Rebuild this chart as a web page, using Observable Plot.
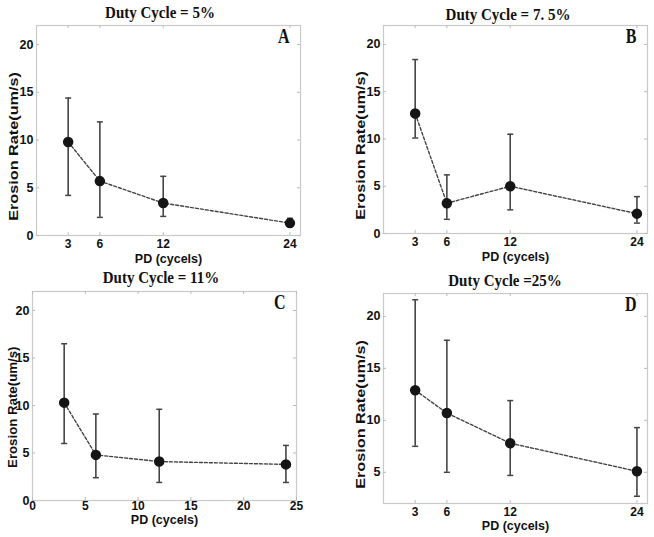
<!DOCTYPE html>
<html>
<head>
<meta charset="utf-8">
<script src="https://cdn.jsdelivr.net/npm/d3@7"></script>
<script src="https://cdn.jsdelivr.net/npm/@observablehq/plot@0.6"></script>
<style>
  html, body { margin: 0; padding: 0; background: #fff; }
  #root { position: relative; width: 654px; height: 537px; overflow: hidden; }
  .panel { position: absolute; }
  .title { position: absolute; font-family: "Liberation Serif", "Times New Roman", serif; font-weight: bold; font-size: 15px; color: #111; white-space: nowrap; transform: translate(-50%, -50%) scaleY(1.15); }
</style>
</head>
<body>
<div id="root"></div>
<script>
// ---- data ----
const pd = [3, 6, 12, 24];
const xTicksCat = [3, 6, 12, 24];
const xTicksLin = [0, 5, 10, 15, 20, 25];
const yTicksFull = [0, 5, 10, 15, 20];
const yTicksD = [5, 10, 15, 20];

const titles = ["Duty Cycle = 5%", "Duty Cycle = 7. 5%", "Duty Cycle = 11%", "Duty Cycle =25%"];
const letters = ["A", "B", "C", "D"];

const meanA = [9.8, 5.7, 3.4, 1.3];
const lowA  = [4.2, 1.9, 2.0, 1.0];
const highA = [14.4, 11.9, 6.2, 1.8];

const meanB = [12.7, 3.2, 5.0, 2.1];
const lowB  = [10.1, 1.5, 2.5, 1.1];
const highB = [18.4, 6.2, 10.5, 3.9];

const meanC = [10.3, 4.8, 4.1, 3.8];
const lowC  = [6.0, 2.4, 1.9, 1.9];
const highC = [16.5, 9.1, 9.6, 5.8];

const meanD = [12.9, 10.7, 7.8, 5.1];
const lowD  = [7.5, 5.0, 4.7, 2.7];
const highD = [21.6, 17.7, 11.9, 9.3];

const xLabel = "PD (cycels)";
const yLabel = "Erosion Rate(um/s)";

// ---- layout ----
const panels = [
  {mean: meanA, low: lowA, high: highA, xt: xTicksCat, yt: yTicksFull, yd: [0, 22],
   left: 0, top: 0, w: 327, h: 268, m: {l: 36, r: 27, t: 25, b: 33}, title: [160, 13],
   ylabDx: -23, ylabDy: 23, ylabStretch: 1.3, xPad: 4, xlabDy: 23},
  {mean: meanB, low: lowB, high: highB, xt: xTicksCat, yt: yTicksFull, yd: [0, 22],
   left: 327, top: 0, w: 327, h: 268, m: {l: 56, r: 7, t: 25, b: 35}, title: [508, 15],
   ylabDx: -23, ylabDy: 23, ylabStretch: 1.3, xPad: 4, xlabDy: 23.5},
  {mean: meanC, low: lowC, high: highC, xt: xTicksLin, yt: yTicksFull, yd: [0, 22],
   left: 0, top: 268, w: 327, h: 269, m: {l: 32, r: 31, t: 23, b: 37}, title: [161, 278],
   ylabDx: -20, ylabDy: 12, ylabStretch: 1.06, xPad: 1, xlabDy: 19},
  {mean: meanD, low: lowD, high: highD, xt: xTicksCat, yt: yTicksD, yd: [2, 22.2],
   left: 327, top: 268, w: 327, h: 269, m: {l: 56, r: 7, t: 25, b: 34}, title: [505, 281],
   ylabDx: -23, ylabDy: 23, ylabStretch: 1.3, xPad: 4, xlabDy: 22.5}
];

const capSymbol = {
  draw(context, size) {
    const w = 3;
    context.moveTo(-w, 0);
    context.lineTo(w, 0);
  }
};

const root = document.getElementById("root");
const tickFont = {fontFamily: "Liberation Sans, Arial, sans-serif", fontWeight: "bold", fontSize: 12, fill: "#111"};

// stretch a text element vertically (screen y) about its own centre
function stretchY(svg, el, k) {
  const sr = svg.getBoundingClientRect();
  const r = el.getBoundingClientRect();
  const cx = r.left + r.width / 2 - sr.left;
  const cy = r.top + r.height / 2 - sr.top;
  const g = document.createElementNS("http://www.w3.org/2000/svg", "g");
  g.setAttribute("transform", `translate(${cx},${cy}) scale(1,${k}) translate(${-cx},${-cy})`);
  el.parentNode.insertBefore(g, el);
  g.appendChild(el);
}

panels.forEach((p, i) => {
  const data = pd.map((x, k) => ({x, y: p.mean[k], lo: p.low[k], hi: p.high[k]}));
  const fw = p.w - p.m.l - p.m.r;
  const fh = p.h - p.m.t - p.m.b;
  const tickLen = 3;
  const chart = Plot.plot({
    width: p.w,
    height: p.h,
    marginLeft: p.m.l,
    marginRight: p.m.r,
    marginTop: p.m.t,
    marginBottom: p.m.b,
    style: {background: "transparent", overflow: "visible"},
    x: {domain: [0, 25], axis: null},
    y: {domain: p.yd, axis: null},
    marks: [
      Plot.frame({stroke: "#c9c9c9", strokeWidth: 1.2}),
      // inner tick marks on all four sides
      Plot.tickX(p.xt, {x: d => d, insetTop: fh - tickLen, stroke: "#bbb"}),
      Plot.tickX(p.xt, {x: d => d, insetBottom: fh - tickLen, stroke: "#bbb"}),
      Plot.tickY(p.yt, {y: d => d, insetRight: fw - tickLen, stroke: "#bbb"}),
      Plot.tickY(p.yt, {y: d => d, insetLeft: fw - tickLen, stroke: "#bbb"}),
      // tick labels
      Plot.axisX(p.xt, {tickSize: 0, tickPadding: p.xPad, label: null, ...tickFont}),
      Plot.axisY(p.yt, {tickSize: 0, tickPadding: 3, label: null, ...tickFont, fontSize: 12.5}),
      // axis labels
      Plot.text([xLabel], {frameAnchor: "bottom", dy: p.xlabDy, text: d => d, lineAnchor: "middle", ...tickFont, fontSize: 12.5}),
      Plot.text([yLabel], {frameAnchor: "left", dx: p.ylabDx, dy: p.ylabDy, rotate: -90, text: d => d,
        textAnchor: "middle", lineAnchor: "middle", ...tickFont, fontSize: 12.5}),
      // panel letter
      Plot.text([letters[i]], {frameAnchor: "top-right", dx: -11, dy: 17, text: d => d, lineAnchor: "middle",
        fontFamily: "Liberation Serif, Times New Roman, serif", fontWeight: "bold", fontSize: 16, fill: "#111"}),
      // error bars
      Plot.ruleX(data, {x: "x", y1: "lo", y2: "hi", stroke: "#444", strokeWidth: 1.6}),
      Plot.dot(data, {x: "x", y: "lo", symbol: capSymbol, r: 3, stroke: "#444", strokeWidth: 1.5, fill: "none"}),
      Plot.dot(data, {x: "x", y: "hi", symbol: capSymbol, r: 3, stroke: "#444", strokeWidth: 1.5, fill: "none"}),
      // dashed connecting line
      Plot.line(data, {x: "x", y: "y", stroke: "#444", strokeWidth: 1.4, strokeDasharray: "3,2"}),
      // means
      Plot.dot(data, {x: "x", y: "y", r: 4.5, fill: "#151515", stroke: "#151515"})
    ]
  });
  chart.classList.add("panel");
  chart.style.left = p.left + "px";
  chart.style.top = p.top + "px";
  root.appendChild(chart);

  chart.querySelectorAll("text").forEach(t => {
    if (t.textContent === yLabel) stretchY(chart, t, p.ylabStretch);
    else if (t.textContent === letters[i]) stretchY(chart, t, 1.35);
  });

  const t = document.createElement("div");
  t.className = "title";
  t.textContent = titles[i];
  t.style.left = p.title[0] + "px";
  t.style.top = p.title[1] + "px";
  root.appendChild(t);
});
</script>
</body>
</html>
